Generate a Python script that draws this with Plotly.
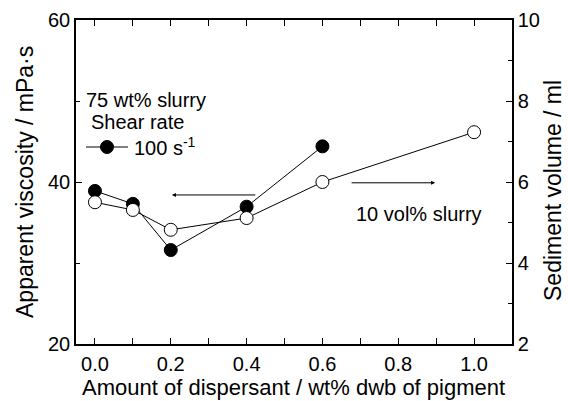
import plotly.graph_objects as go

# Data
dispersant = [0.0, 0.1, 0.2, 0.4, 0.6]
viscosity = [38.9, 37.3, 31.6, 36.95, 44.4]
dispersant_sed = [0.0, 0.1, 0.2, 0.4, 0.6, 1.0]
sediment = [5.5, 5.31, 4.82, 5.11, 6.0, 7.23]

x_title = "Amount of dispersant / wt% dwb of pigment"
y_title = "Apparent viscosity / mPa·s"
y2_title = "Sediment volume / ml"

FONT = "Liberation Sans, Arial, sans-serif"
L, R, T, B = 76, 56, 20, 57
W, H = 568, 401
PW, PH = W - L - R, H - T - B

def px(x):
    return (x - L) / PW

def py(y):
    return (H - B - y) / PH

fig = go.Figure()
fig.add_trace(go.Scatter(
    x=dispersant, y=viscosity, mode="lines+markers", name="100 s<sup>-1</sup>",
    line=dict(color="black", width=1),
    marker=dict(symbol="circle", size=13, color="black", line=dict(color="black", width=1)),
    showlegend=False, yaxis="y"))
fig.add_trace(go.Scatter(
    x=dispersant_sed, y=sediment, mode="lines+markers", name="10 vol% slurry",
    line=dict(color="black", width=1),
    marker=dict(symbol="circle", size=13, color="white", line=dict(color="black", width=1)),
    showlegend=False, yaxis="y2"))

axis_common = dict(
    showline=True, linecolor="black", linewidth=1.5, ticks="inside", ticklen=6,
    tickwidth=1, tickcolor="black", showgrid=False, zeroline=False, automargin=False,
    tickfont=dict(family=FONT, size=20, color="black"),
)

fig.update_layout(
    width=W, height=H,
    margin=dict(l=L, r=R, t=T, b=B, autoexpand=False),
    plot_bgcolor="white", paper_bgcolor="white",
    font=dict(family=FONT, color="black"),
    showlegend=False,
    xaxis=dict(range=[-0.05, 1.1], dtick=0.2, tick0=0, tickformat=".1f",
               mirror="allticks", ticklabelstandoff=1,
               minor=dict(dtick=0.1, tick0=0, ticks="inside", ticklen=4, tickcolor="black"),
               **axis_common),
    yaxis=dict(range=[20, 60], dtick=20, tick0=20,
               minor=dict(dtick=10, tick0=20, ticks="inside", ticklen=4, tickcolor="black"),
               **axis_common),
    yaxis2=dict(range=[2, 10], dtick=2, tick0=2, overlaying="y", side="right",
                minor=dict(dtick=1, tick0=2, ticks="inside", ticklen=4, tickcolor="black"),
                **axis_common),
)

# axis titles
fig.add_annotation(text=x_title, x=px(293), y=py(387), xref="paper", yref="paper",
                   xanchor="center", yanchor="middle", showarrow=False, borderpad=0,
                   font=dict(family=FONT, size=22))
fig.add_annotation(text=y_title, x=px(25), y=py(182), xref="paper", yref="paper",
                   xanchor="center", yanchor="middle", showarrow=False, textangle=-90,
                   font=dict(family=FONT, size=23))
fig.add_annotation(text=y2_title, x=px(553), y=py(191), xref="paper", yref="paper",
                   xanchor="center", yanchor="middle", showarrow=False, textangle=-90,
                   font=dict(family=FONT, size=23))

fig.add_annotation(text="75 wt% slurry", x=px(84), y=py(100), xref="paper", yref="paper",
                   xanchor="left", yanchor="middle", showarrow=False,
                   font=dict(family=FONT, size=20))
fig.add_annotation(text="Shear rate", x=px(89), y=py(122), xref="paper", yref="paper",
                   xanchor="left", yanchor="middle", showarrow=False,
                   font=dict(family=FONT, size=20))
fig.add_annotation(text="100 s<sup>-1</sup>", x=px(132), y=py(146), xref="paper", yref="paper",
                   xanchor="left", yanchor="middle", showarrow=False,
                   font=dict(family=FONT, size=20))
fig.add_annotation(text="10 vol% slurry", x=px(354), y=py(214), xref="paper", yref="paper",
                   xanchor="left", yanchor="middle", showarrow=False,
                   font=dict(family=FONT, size=20))

# legend sample (decoration)
fig.add_shape(type="line", xref="paper", yref="paper", x0=px(86), x1=px(128),
              y0=py(147), y1=py(147), line=dict(color="black", width=1))
fig.add_shape(type="circle", xref="paper", yref="paper", x0=px(100.5), x1=px(113.5),
              y0=py(153.5), y1=py(140.5), fillcolor="black", line=dict(color="black", width=1))

# arrows
fig.add_annotation(x=0.203, y=38.4, ax=0.427, ay=38.4, xref="x", yref="y",
                   axref="x", ayref="y", text="", showarrow=True,
                   arrowhead=2, arrowsize=0.8, arrowwidth=1, arrowcolor="black")
fig.add_annotation(x=0.897, y=39.9, ax=0.673, ay=39.9, xref="x", yref="y",
                   axref="x", ayref="y", text="", showarrow=True,
                   arrowhead=2, arrowsize=0.8, arrowwidth=1, arrowcolor="black")

fig.write_html("out.html")
